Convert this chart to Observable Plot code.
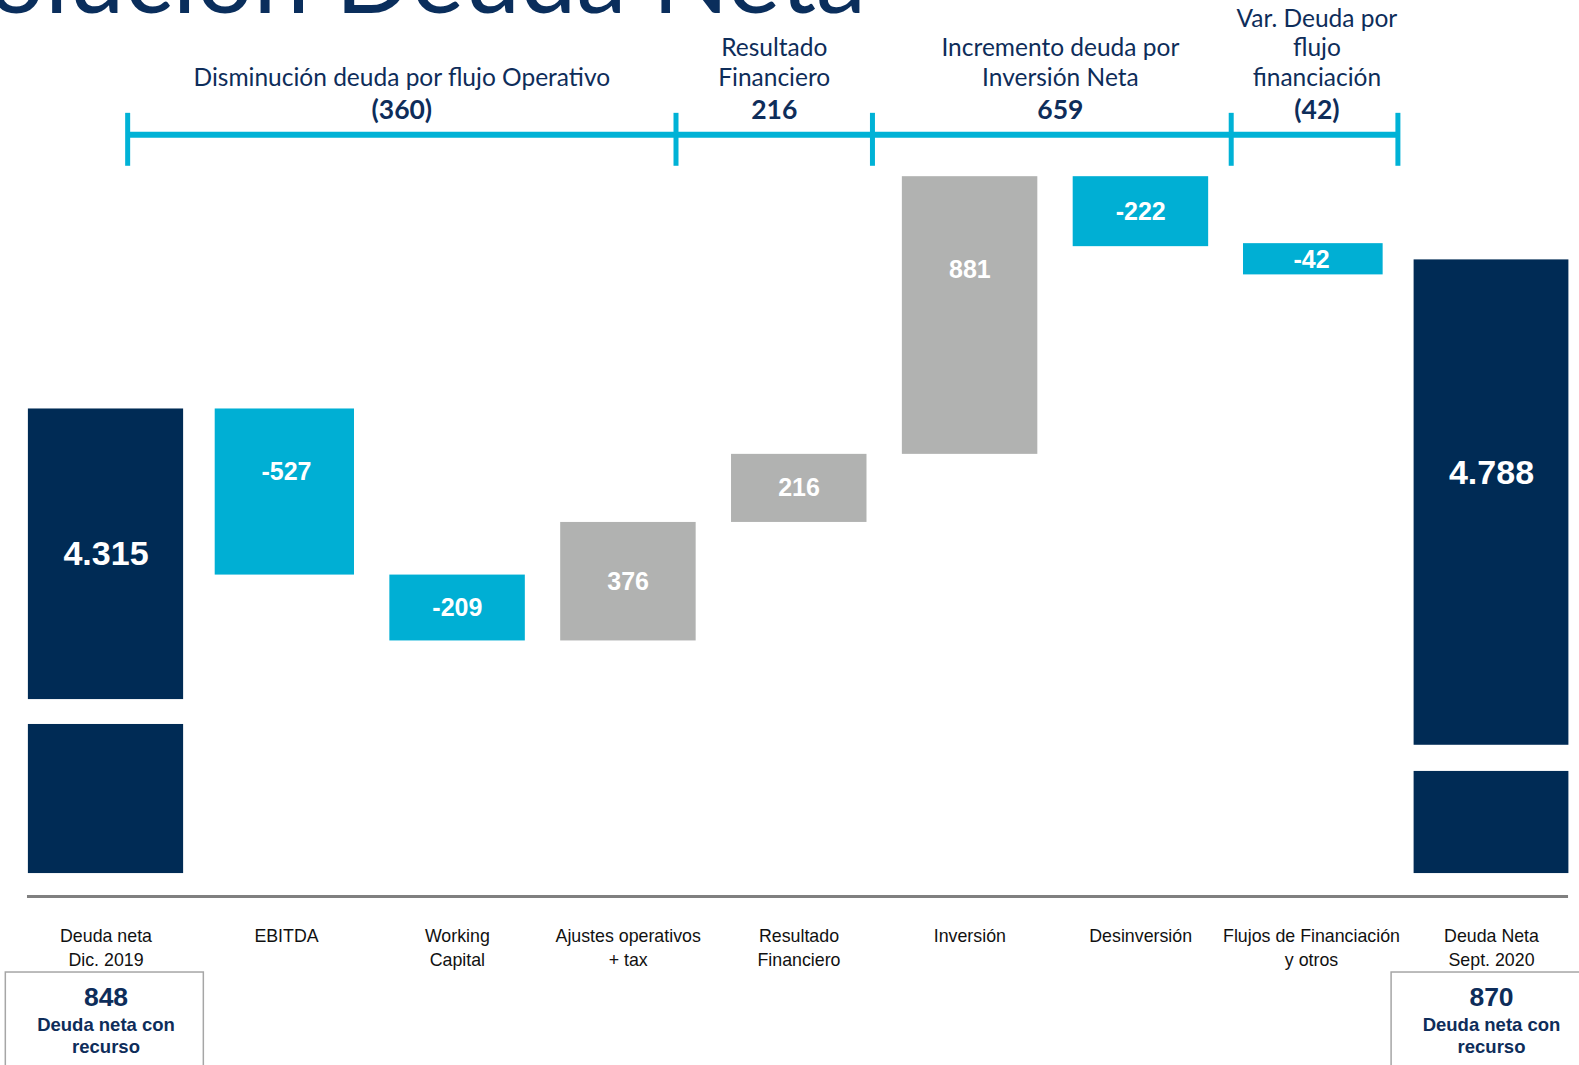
<!DOCTYPE html>
<html>
<head>
<meta charset="utf-8">
<script src="https://cdn.jsdelivr.net/npm/d3@7"></script>
<script src="https://cdn.jsdelivr.net/npm/@observablehq/plot@0.6"></script>
<style>
  html, body { margin: 0; padding: 0; background: #fff; }
  #wrap { position: relative; width: 1579px; height: 1065px; overflow: hidden; }
  #chart { position: absolute; left: 0; top: 0; }
  #title { position: absolute; left: -200px; width: 1066px; top: -76px; text-align: right;
           font-family: Lato, "Open Sans", sans-serif; font-size: 100.5px; line-height: 1;
           color: #0A2E5C; white-space: nowrap; }
</style>
</head>
<body>
<div id="wrap">
  <div id="chart"></div>
  <div id="title">Evolución Deuda Neta</div>
</div>
<script>
// ---------- data ----------
const categories = [
  "Deuda neta\nDic. 2019", "EBITDA", "Working\nCapital", "Ajustes operativos\n+ tax",
  "Resultado\nFinanciero", "Inversión", "Desinversión", "Flujos de Financiación\ny otros",
  "Deuda Neta\nSept. 2020"
];
const values = [4315, -527, -209, 376, 216, 881, -222, -42, 4788];
const kinds = ["total", "delta", "delta", "delta", "delta", "delta", "delta", "delta", "total"];

const groupLabels = [
  "Disminución deuda por flujo Operativo",
  "Resultado\nFinanciero",
  "Incremento deuda por\nInversión Neta",
  "Var. Deuda por\nflujo\nfinanciación"
];
const groupMembers = [[1, 2, 3], [4], [5, 6], [7]];
const bracketEdges = [0.12, 3.28, 4.43, 6.53, 7.48];   // on the category axis

const recourseIndex = [0, 8];
const recourseDebt = [848, 870];
const recourseLabel = "Deuda neta con\nrecurso";

const axisFloor = 2841;                          // broken value axis: base of total bars
const axisBreaks = [[3314, 3393], [3165, 3248]]; // gap drawn in each total bar

// ---------- derived ----------
const fmt = d3.formatLocale({decimal: ",", thousands: ".", grouping: [3], currency: ["", ""], minus: "-"}).format(",d");
const fmtGroup = v => v < 0 ? `(${fmt(-v)})` : fmt(v);

let run = 0, t = 0;
const bars = categories.map((c, i) => {
  const v = values[i];
  if (kinds[i] === "total") {
    run = v;
    const br = axisBreaks[t++];
    return {i, c, v, kind: "total", lo: axisFloor, hi: v, brk: br};
  }
  const a = run, b = run + v; run = b;
  return {i, c, v, kind: v < 0 ? "neg" : "pos", lo: Math.min(a, b), hi: Math.max(a, b)};
});
const totalSegments = bars.filter(b => b.kind === "total").flatMap(b => [
  {i: b.i, y1: axisFloor, y2: b.brk[0]},
  {i: b.i, y1: b.brk[1], y2: b.v}
]);
const groups = groupLabels.map((label, k) => ({
  k, label,
  value: d3.sum(groupMembers[k], j => values[j]),
  x: (bracketEdges[k] + bracketEdges[k + 1]) / 2
}));
const recourse = recourseIndex.map((i, k) => ({i, v: recourseDebt[k]}));

// ---------- styles ----------
const NAVY = "#002B55", CYAN = "#00AFD4", GRAY = "#B1B2B1", TEXT = "#0E2D5A", LINE = "#00B2D6";
const fillOf = {total: NAVY, neg: CYAN, pos: GRAY};
const ARIAL = "'Liberation Sans', Arial, sans-serif";
const CALIBRI = "Lato, 'Open Sans', sans-serif";
const isSmall = d => d.kind !== "total" && Math.abs(d.v) < 100;   // drawn with a minimum visual height
const labelNudge = {1: 62, 5: 146, 7: -20, 8: 95};
const labelY = d => (d.kind === "total" ? (d.brk[1] + d.hi) / 2 : (d.lo + d.hi) / 2) + (labelNudge[d.i] || 0);
const groupShift = [-0.025, 0, 0.05, 0.025];
const groupX = d => d.x + groupShift[d.k];

const chart = Plot.plot({
  width: 1579, height: 1065,
  marginTop: 0, marginBottom: 0, marginLeft: 0, marginRight: 0,
  x: {type: "linear", domain: [0, 1, 7, 8], range: [105.5, 286, 1311, 1491], axis: null},
  y: {type: "linear", domain: [2232, 5611], range: [1065, 0], axis: null},
  color: {type: "identity"},
  style: {background: "white", fontFamily: ARIAL},
  marks: [
    // floating bars
    Plot.rect(bars.filter(d => d.kind !== "total" && !isSmall(d)), {
      x1: d => d.i - 0.395, x2: d => d.i + 0.398, y1: "lo", y2: "hi", fill: d => fillOf[d.kind]
    }),
    Plot.rect(bars.filter(isSmall), {
      x1: d => d.i - 0.398, x2: d => d.i + 0.398, y1: "lo", y2: "hi", fill: d => fillOf[d.kind],
      insetTop: -3, insetBottom: -15
    }),
    // total bars (broken)
    Plot.rect(totalSegments, {x1: d => d.i - 0.43, x2: d => d.i + 0.43, y1: "y1", y2: "y2", fill: NAVY}),
    // bar labels
    Plot.text(bars, {
      x: "i", y: labelY, text: d => fmt(d.v), fill: "white", fontWeight: "bold",
      fontSize: d => d.kind === "total" ? 34 : 25, fontFamily: ARIAL
    }),
    // separator line
    Plot.ruleY([2768], {x1: -0.435, x2: 8.428, stroke: "#808080", strokeWidth: 3}),
    // category labels
    Plot.text(bars, {
      x: "i", text: "c", frameAnchor: "top", dy: 924, lineAnchor: "top",
      fontSize: 17.8, lineHeight: 1.376, fontFamily: ARIAL, fill: "#111"
    }),
    // recourse boxes
    Plot.rect(recourse, {
      x1: d => d.i - 0.555, x2: d => d.i + 0.542, y1: 2527, y2: 2150,
      fill: "white", stroke: "#A6A6A6", strokeWidth: 1.5
    }),
    Plot.text(recourse, {
      x: "i", text: d => fmt(d.v), frameAnchor: "top", dy: 997, lineAnchor: "middle",
      fontSize: 26.5, fontWeight: "bold", fill: TEXT, fontFamily: ARIAL
    }),
    Plot.text(recourse, {
      x: "i", text: () => recourseLabel, frameAnchor: "top", dy: 1034, lineAnchor: "middle",
      fontSize: 18.5, lineHeight: 1.2, fontWeight: "bold", fill: TEXT, fontFamily: ARIAL
    }),
    // brackets
    Plot.ruleY([5185], {x1: bracketEdges[0], x2: bracketEdges[bracketEdges.length - 1], stroke: LINE, strokeWidth: 6}),
    Plot.ruleX(bracketEdges, {y1: 5085, y2: 5253, stroke: LINE, strokeWidth: 5}),
    Plot.text(groups, {
      x: groupX, text: "label", frameAnchor: "top", dy: 85, lineAnchor: "bottom",
      fontSize: 24.5, lineHeight: 1.196, fontFamily: CALIBRI, fill: TEXT
    }),
    Plot.text(groups, {
      x: groupX, text: d => fmtGroup(d.value), frameAnchor: "top", dy: 110, lineAnchor: "middle",
      fontSize: 26.5, fontWeight: "bold", fontFamily: CALIBRI, fill: TEXT
    })
  ]
});
document.getElementById("chart").appendChild(chart);
</script>
</body>
</html>
